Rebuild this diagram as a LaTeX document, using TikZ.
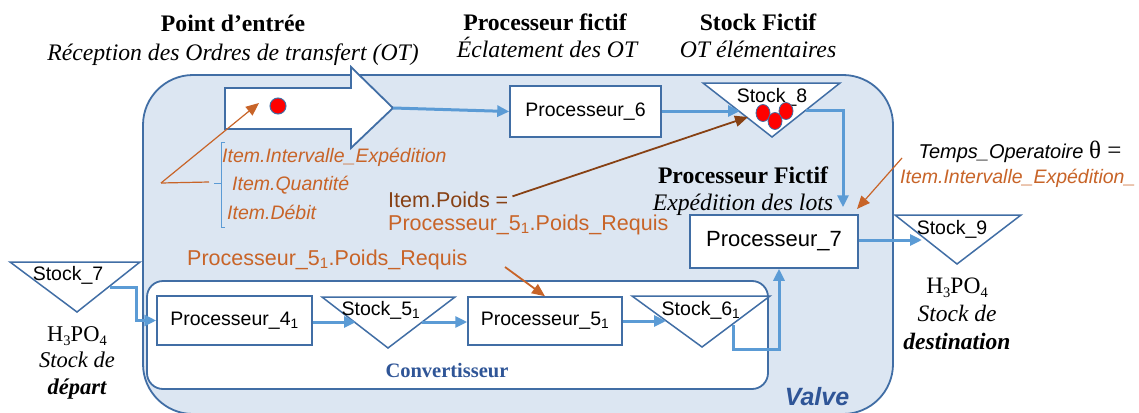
\documentclass[tikz,border=0pt]{standalone}
\usepackage{fontspec}
\setmainfont{Liberation Serif}
\setsansfont{Liberation Sans}
\usetikzlibrary{arrows.meta,calc}
\definecolor{valvefill}{RGB}{220,230,242}
\definecolor{boxline}{RGB}{65,110,165}
\definecolor{connblue}{RGB}{91,155,213}
\definecolor{orng}{RGB}{200,100,40}
\definecolor{brwn}{RGB}{135,65,20}
\definecolor{dkblue}{RGB}{47,85,151}
\newcommand\chemsub[1]{\raisebox{-0.2em}{\fontsize{14.5}{14.5}\selectfont #1}}
\tikzset{
  procbox/.style={draw=boxline, line width=1.5, fill=white, inner sep=0, font=\sffamily\fontsize{19.5}{22}\selectfont},
  conn/.style={draw=connblue, line width=3, -{Triangle[length=12,width=11]}},
  tri/.style={draw=boxline, line width=1.5, fill=white, line join=miter},
  stocklbl/.style={font=\sffamily\fontsize{19.5}{22}\selectfont, inner sep=0},
  ttl/.style={font=\bfseries\fontsize{23.7}{26}\selectfont, anchor=base, inner sep=0},
  subttl/.style={font=\itshape\fontsize{23.7}{26}\selectfont, anchor=base, inner sep=0},
  otext/.style={font=\sffamily\itshape\fontsize{19.5}{21}\selectfont, text=orng, anchor=base west, inner sep=0},
  serl/.style={font=\fontsize{22.5}{24}\selectfont, anchor=base, inner sep=0},
  serli/.style={font=\itshape\fontsize{22.5}{24}\selectfont, anchor=base, inner sep=0},
  serlbi/.style={font=\bfseries\itshape\fontsize{22.5}{24}\selectfont, anchor=base, inner sep=0},
}
\begin{document}
\begin{tikzpicture}[x=1pt,y=-1pt]
\useasboundingbox (0,0) rectangle (1139,412);
\clip (0,0) rectangle (1139,412);
\fill[white] (0,0) rectangle (1139,412);
% Valve container
\draw[draw=boxline, line width=1.8, fill=valvefill, rounded corners=50] (143,75) rectangle (893,414);
\node[font=\sffamily\bfseries\itshape\fontsize{25}{27}\selectfont, text=dkblue, anchor=base, inner sep=0] (valve) at (817,405) {Valve};
% Convertisseur container
\draw[draw=boxline, line width=1.8, fill=white, rounded corners=16] (147,281) rectangle (768,389);
\node[font=\bfseries\fontsize{20.5}{22}\selectfont, text=dkblue, anchor=base, inner sep=0] (conv) at (447,377) {Convertisseur};

% titles
\node[ttl] (t1) at (233,32) {Point d’entrée};
\node[subttl] (s1) at (233,60) {Réception des Ordres de transfert (OT)};
\node[ttl] (t2) at (545,31) {Processeur fictif};
\node[subttl] (s2) at (547,58) {Éclatement des OT};
\node[ttl] (t3) at (758,31) {Stock Fictif};
\node[subttl] (s3) at (758,58) {OT élémentaires};
\node[ttl] (t4) at (743,183) {Processeur Fictif};
\node[subttl] (s4) at (743,210) {Expédition des lots};

% big entry arrow
\draw[tri, line width=1.8] (225,88) -- (351,88) -- (351,67) -- (393,108) -- (351,148) -- (351,129) -- (225,129) -- cycle;
\coordinate (arrtip) at (393,108);
\draw[draw=boxline, line width=1, fill=red] (278,106) circle (8);
\coordinate (dot) at (259,103);

% boxes
\node[procbox, minimum width=151, minimum height=51] (p6) at (585.5,111.5) {Processeur\_6};
\node[procbox, minimum width=168, minimum height=53, font=\sffamily\fontsize{22}{24}\selectfont] (p7) at (774,241.5) {Processeur\_7};
\node[procbox, minimum width=155, minimum height=49] (p4) at (234.5,320.5) {Processeur\_4\textsubscript{1}};
\node[procbox, minimum width=154, minimum height=48] (p5) at (545,321) {Processeur\_5\textsubscript{1}};

% stocks
\draw[tri] (703,83) -- (840,83) -- (772,137) -- cycle;
\node[stocklbl] (st8) at (772,97) {Stock\_8};
\foreach \cx/\cy in {763/113, 786/111, 775/121}
  \draw[draw=boxline, line width=0.8, fill=red] (\cx,\cy) ellipse (7 and 8.5);
\coordinate (s8in) at (740,111);
\coordinate (s8out) at (806,110);

\draw[tri] (895,215) -- (1021,215) -- (957,264) -- cycle;
\node[stocklbl] (st9) at (952,229) {Stock\_9};
\coordinate (s9in) at (922,240);

\draw[tri] (10,262) -- (140,262) -- (77,312) -- cycle;
\node[stocklbl] (st7) at (68,275) {Stock\_7};
\coordinate (s7out) at (110,287);

\draw[tri] (322,297) -- (455,297) -- (388,348) -- cycle;
\node[stocklbl] (st5) at (381,310) {Stock\_5\textsubscript{1}};
\coordinate (s5in) at (356,322);
\coordinate (s5out) at (422,322);

\draw[tri] (632,296) -- (770,296) -- (702,347) -- cycle;
\node[stocklbl] (st6) at (701,310) {Stock\_6\textsubscript{1}};
\coordinate (s6in) at (666,321);
\coordinate (s6out) at (733,325);

% stock texts
\node[serl] (h7) at (77,341) {H\chemsub{3}PO\chemsub{4}};
\node[serli] (sd7) at (77,367) {Stock de};
\node[serlbi] (dp7) at (77,394) {départ};
\node[serl, font=\fontsize{23.5}{25}\selectfont] (h9) at (957,293) {H\chemsub{3}PO\chemsub{4}};
\node[serli, font=\itshape\fontsize{23.5}{25}\selectfont] (sd9) at (957,321) {Stock de};
\node[serlbi, font=\bfseries\itshape\fontsize{23.5}{25}\selectfont] (ds9) at (957,349) {destination};

% connectors
\draw[conn] (arrtip) -- (p6.west);
\draw[conn] (p6.east |- s8in) -- (s8in);
\draw[conn, shorten >=7] (s8out) -| (p7.north -| 843,0);
\draw[conn] (p7.east |- s9in) -- (s9in);
\draw[conn] (s7out) -- (136,287) |- (p4.west);
\draw[conn] (p4.east |- s5in) -- (s5in);
\draw[conn] (s5out) -- (p5.west |- s5out);
\draw[conn] (p5.east |- s6in) -- (s6in);
\draw[conn] (s6out) -- (733,349) -- (779,349) -- (p7.south -| 779,0);

% item bracket
\draw[connblue, line width=1] (225,142) -- (221,142) -- (221,227) -- (225,227);
\draw[connblue, line width=1] (221,183) -- (214,183);
\node[otext] (it1) at (222,162) {Item.Intervalle\_Expédition};
\node[otext] (it2) at (232,190) {Item.Quantité};
\node[otext] (it3) at (227,219) {Item.Débit};
\coordinate (brk) at (161,183);
\draw[orng, line width=1.2] (brk) -- (209,182);
\draw[orng, line width=1.2, -{Triangle[length=13,width=11]}] (brk) -- (dot);

% poids
\node[font=\sffamily\fontsize{21.5}{24}\selectfont, text=brwn, anchor=base west, inner sep=0] (ip) at (388,207) {Item.Poids =};
\node[font=\sffamily\fontsize{21.5}{24}\selectfont, text=orng, anchor=base west, inner sep=0] (ip2) at (388,230) {Processeur\_5\textsubscript{1}.Poids\_Requis};
\coordinate (s8dot) at (748,117);
\draw[brwn, line width=1.8, -{Triangle[length=13,width=11]}] (ip.east) ++(4,-3) -- (s8dot);

\node[font=\sffamily\fontsize{21.5}{24}\selectfont, text=orng, anchor=base west, inner sep=0] (pr) at (187,265) {Processeur\_5\textsubscript{1}.Poids\_Requis};
\draw[orng, line width=1.8, -{Triangle[length=13,width=11]}] (505,267) -- (p5.north);

% temps operatoire
\node[font=\sffamily\itshape\fontsize{20}{22}\selectfont, anchor=base, inner sep=0] (tp) at (1020,158) {Temps\_Operatoire {\rmfamily\upshape\fontsize{25}{25}\selectfont θ =}};
\node[otext] (tp2) at (900,183) {Item.Intervalle\_Expédition\_};
\draw[orng, line width=1.2, -{Triangle[length=13,width=11]}] (902,158) -- (857,209);
\end{tikzpicture}
\end{document}
